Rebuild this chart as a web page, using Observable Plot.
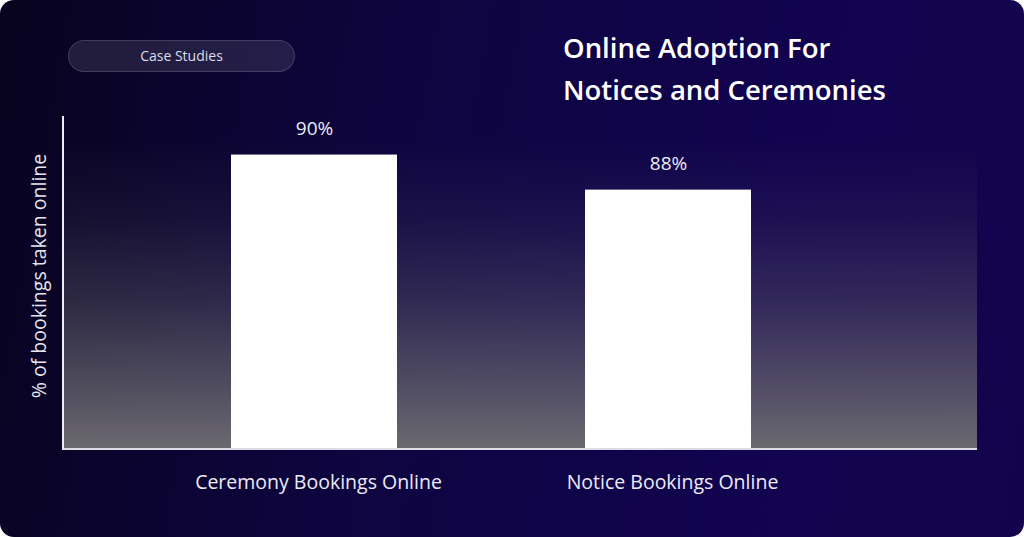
<!DOCTYPE html>
<html><head><meta charset="utf-8">
<script src="https://cdn.jsdelivr.net/npm/d3@7"></script>
<script src="https://cdn.jsdelivr.net/npm/@observablehq/plot@0.6"></script>
<style>
html,body{margin:0;padding:0;background:#fff;}
#card{position:relative;width:1024px;height:537px;border-radius:14px;overflow:hidden;
  background:linear-gradient(100deg,#08031e 0%,#0e0540 38%,#11034e 72%,#12044c 100%);
  font-family:"Open Sans",sans-serif;}
#chart{position:absolute;left:0;top:0;}
#pill{position:absolute;left:68px;top:40px;width:227px;height:32px;box-sizing:border-box;border-radius:16px;
  background:rgba(255,255,255,0.10);border:1px solid rgba(255,255,255,0.14);color:#dcdcea;font-size:14px;line-height:30px;text-align:center;}
#title{position:absolute;left:563px;top:27px;color:#fff;font-weight:600;font-size:27.5px;line-height:42px;white-space:nowrap;}
#ylabel{position:absolute;left:38px;top:276px;transform:translate(-50%,-50%) rotate(-90deg);color:#e6e6f0;font-size:19.5px;white-space:nowrap;}
</style></head>
<body>
<div id="card">
  <div id="chart"></div>
  <div id="pill">Case Studies</div>
  <div id="title">Online Adoption For<br>Notices and Ceremonies</div>
  <div id="ylabel">% of bookings taken online</div>
</div>
<script>
const categories = ["Ceremony Bookings Online", "Notice Bookings Online"];
const values = [90, 88];
const valueLabels = ["90%", "88%"];
const yDomain = [73.2, 92.2];

const data = categories.map((c, i) => ({category: c, value: values[i], label: valueLabels[i]}));

function backdrop(index, scales, vals, dims) {
  const {width, height, marginLeft, marginRight, marginTop, marginBottom} = dims;
  const g = d3.create("svg:g");
  const grad = g.append("defs").append("linearGradient")
    .attr("id", "plotbg").attr("x1", 0).attr("y1", 0).attr("x2", 0).attr("y2", 1);
  [[0, 0], [0.07, 0], [0.3, 0.12], [0.55, 0.36], [0.8, 0.7], [1, 1]].forEach(([o, a]) => {
    grad.append("stop").attr("offset", o).attr("stop-color", "#6b6970").attr("stop-opacity", a);
  });
  g.append("rect")
    .attr("x", marginLeft).attr("y", marginTop)
    .attr("width", width - marginLeft - marginRight)
    .attr("height", height - marginTop - marginBottom)
    .attr("fill", "url(#plotbg)");
  return g.node();
}

function axisLines(index, scales, vals, dims) {
  const {width, height, marginLeft, marginRight, marginTop, marginBottom} = dims;
  const g = d3.create("svg:g");
  const yb = height - marginBottom;
  g.append("line").attr("x1", marginLeft).attr("x2", marginLeft).attr("y1", marginTop).attr("y2", yb + 1)
    .attr("stroke", "#ececf2").attr("stroke-width", 2);
  g.append("line").attr("x1", marginLeft).attr("x2", width - marginRight).attr("y1", yb).attr("y2", yb)
    .attr("stroke", "#dcdce4").attr("stroke-width", 2);
  return g.node();
}

const plot = Plot.plot({
  width: 1024, height: 537,
  marginLeft: 63, marginRight: 47, marginTop: 116, marginBottom: 88,
  style: {background: "transparent", fontFamily: "Open Sans", color: "#ececf4", overflow: "visible"},
  x: {domain: categories, paddingInner: 0.53, paddingOuter: 0.553, align: 0.427, label: null},
  y: {domain: yDomain, clamp: true, axis: null},
  marks: [
    backdrop,
    Plot.barY(data, {x: "category", y: "value", fill: "white"}),
    Plot.text(data, {x: "category", y: "value", text: "label", dy: -26, fill: "#ececf4", fontSize: 19}),
    Plot.axisX({fontSize: 19.5, tickSize: 0, tickPadding: 26, dx: 4, label: null}),
    axisLines
  ]
});
document.getElementById("chart").appendChild(plot);
</script>
</body></html>
